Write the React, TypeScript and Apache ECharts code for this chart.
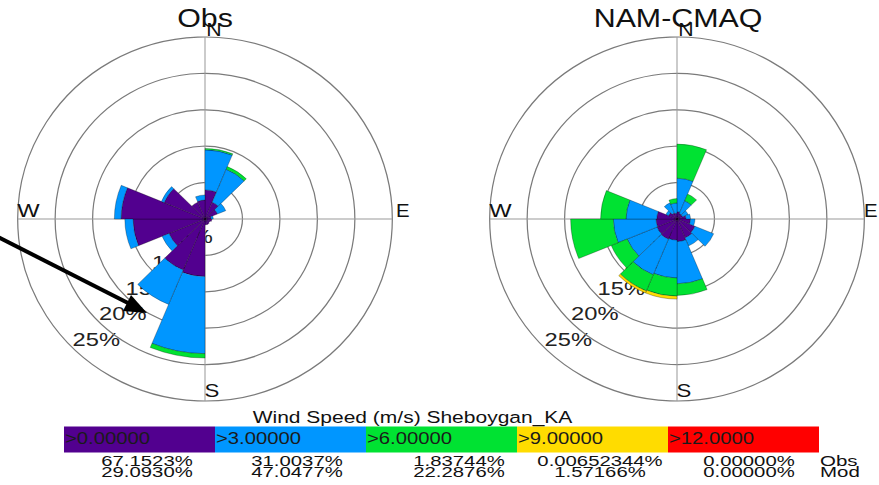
import React, { useEffect, useRef } from 'react';
import * as echarts from 'echarts';

// ---------- data ----------
const DIRECTIONS = ['N', 'NNE', 'NE', 'ENE', 'E', 'ESE', 'SE', 'SSE', 'S', 'SSW', 'SW', 'WSW', 'W', 'WNW', 'NW', 'NNW'];
const SPEED_BINS = ['>0.00000', '>3.00000', '>6.00000', '>9.00000', '>12.0000'];
const BIN_COLORS = ['#52008f', '#0096ff', '#00e232', '#ffdc00', '#ff0000'];
const RING_TICKS = [5, 10, 15, 20, 25];
const RING_LABELS = ['5%', '10%', '15%', '20%', '25%'];
const PANEL_TITLES = ['Obs', 'NAM-CMAQ'];
const LEGEND_TITLE = 'Wind Speed (m/s) Sheboygan_KA';
const OBS_PCT = ['67.1523%', '31.0037%', '1.83744%', '0.00652344%', '0.00000%'];
const MOD_PCT = ['29.0930%', '47.0477%', '22.2876%', '1.57166%', '0.00000%'];
const ROW_NAMES = ['Obs', 'Mod'];

// frequency (%) per direction sector (sector k spans k*22.5 .. (k+1)*22.5 deg)
const obsCalm = [4.0, 2.5, 1.8, 0.8, 0.9, 0.7, 0.8, 0.8, 7.9, 7.6, 5.2, 9.6, 11.2, 5.9, 2.5, 2.6];
const obsMid = [5.5, 4.9, 1.2, 0.3, 0, 0, 0, 0, 10.6, 5.1, 1.0, 1.1, 0.9, 0.4, 0, 0.7];
const obsHigh = [0.2, 0.4, 0, 0, 0, 0, 0, 0, 0.6, 0, 0, 0, 0, 0, 0, 0];
const obsVHigh = [0, 0, 0, 0, 0, 0, 0, 0, 0, 0, 0, 0, 0, 0, 0, 0];
const obsExtreme = [0, 0, 0, 0, 0, 0, 0, 0, 0, 0, 0, 0, 0, 0, 0, 0];

const modCalm = [1.0, 0.8, 0.8, 1.2, 1.8, 2.6, 2.8, 3.1, 2.9, 3.0, 2.9, 2.8, 2.7, 1.2, 0.9, 0.8];
const modMid = [4.6, 1.9, 0.8, 0.6, 0.6, 2.7, 1.2, 5.8, 5.2, 5.3, 4.3, 5.7, 4.1, 0.4, 1.5, 1.4];
const modHigh = [4.7, 1.0, 0, 0, 0, 0, 0, 1.6, 2.5, 2.4, 2.3, 5.7, 3.4, 0, 0, 0.6];
const modVHigh = [0, 0, 0, 0, 0, 0, 0, 0, 0.4, 0.3, 0, 0, 0, 0, 0, 0];
const modExtreme = [0, 0, 0, 0, 0, 0, 0, 0, 0, 0, 0, 0, 0, 0, 0, 0];

// ---------- layout ----------
const PAGE_W = 879;
const DIV_W = 854;
const SX = PAGE_W / DIV_W; // slight horizontal stretch of the original picture
const X = (px: number) => px / SX;
const FONT = '"Liberation Sans", Arial, Helvetica, sans-serif';
const CY = 219;
const R = 182;
const CENTERS = [X(205), X(677)];

function txt(text: string, x: number, y: number, o: any = {}) {
  const align = o.align || 'center';
  const va = o.va || 'middle';
  return {
    type: 'text',
    x,
    y,
    scaleX: o.sc || 1,
    z: o.z === undefined ? 20 : o.z,
    silent: true,
    style: {
      text,
      fontSize: o.size || 16,
      fontFamily: FONT,
      fill: o.fill || '#111',
      textAlign: align,
      align,
      textVerticalAlign: va,
      verticalAlign: va,
    },
  };
}

function buildGraphic() {
  const g: any[] = [];
  CENTERS.forEach((cx, i) => {
    g.push(txt(PANEL_TITLES[i], cx + X(i === 0 ? 0 : 1), 18, { size: 25, sc: 1.18 }));
    g.push(txt('N', cx + X(9), CY - 189, { size: 18, sc: 1.15 }));
    g.push(txt('S', cx + X(7), CY + 172, { size: 18, sc: 1.2 }));
    g.push(txt('W', cx - X(176.5), CY - 8, { size: 18, sc: 1.28 }));
    // E: the right panel's E sits at the picture's edge; keep it just inside
    g.push(txt('E', cx + X(i === 0 ? 191 : 187), CY - 8, { size: 18, sc: 1.1, align: 'left' }));
    RING_TICKS.forEach((v, k) => {
      const r = (R * v) / 25;
      g.push(
        txt(RING_LABELS[k], cx - r * 0.7071, CY + r * 0.7071 + 1, {
          size: 18,
          sc: 1.28,
          align: 'left',
          va: 'bottom',
          z: 0,
          fill: '#222',
        })
      );
    });
  });

  // annotation arrow
  g.push({
    type: 'line',
    z: 30,
    silent: true,
    shape: { x1: X(-2), y1: 237, x2: X(128), y2: 303 },
    style: { stroke: '#000', lineWidth: 4 },
  });
  g.push({
    type: 'polygon',
    z: 30,
    silent: true,
    shape: { points: [[X(147), 313], [X(123), 311], [X(131), 295]] },
    style: { fill: '#000' },
  });

  // legend
  g.push(txt(LEGEND_TITLE, X(412.5), 417, { size: 17, sc: 1.2 }));
  const boxLeft = 64;
  const boxW = 151;
  SPEED_BINS.forEach((lab, i) => {
    g.push({
      type: 'rect',
      z: 10,
      silent: true,
      shape: { x: X(boxLeft + i * boxW), y: 426.5, width: X(boxW), height: 26 },
      style: { fill: BIN_COLORS[i] },
    });
    g.push(txt(lab, X(boxLeft + i * boxW + 1), 438.5, { size: 16, sc: 1.23, align: 'left', fill: '#1a1a1a' }));
  });
  const pctCenters = [147, 297, 459, 600, 749];
  OBS_PCT.forEach((p, i) => g.push(txt(p, X(pctCenters[i]), 461, { size: 14, sc: 1.41 })));
  MOD_PCT.forEach((p, i) => g.push(txt(p, X(pctCenters[i]), 472, { size: 14, sc: 1.41 })));
  ROW_NAMES.forEach((n, i) =>
    g.push(txt(n, X(820), 461 + i * 11, { size: 14, sc: 1.42, align: 'left' }))
  );
  return g;
}

function roseSeries(polarIndex: number, stack: string, arrays: number[][]) {
  return arrays.map((arr, i) => ({
    type: 'bar',
    name: SPEED_BINS[i],
    coordinateSystem: 'polar',
    polarIndex,
    stack,
    barCategoryGap: '0%',
    silent: true,
    data: arr.map((v) => (v === 0 ? '-' : v)),
    itemStyle: { color: BIN_COLORS[i], borderColor: 'rgba(0,0,0,0.55)', borderWidth: 0.5 },
  }));
}

const option: any = {
  animation: false,
  backgroundColor: '#fff',
  polar: CENTERS.map((cx) => ({ center: [cx, CY], radius: R })),
  angleAxis: CENTERS.map((_, i) => ({
    polarIndex: i,
    type: 'category',
    data: DIRECTIONS,
    startAngle: 90,
    clockwise: true,
    boundaryGap: true,
    axisLine: { show: false },
    axisTick: { show: false, interval: 3 },
    axisLabel: { show: false },
    splitLine: { show: true, interval: 3, lineStyle: { color: '#9a9a9a', width: 1 } },
  })),
  radiusAxis: CENTERS.map((_, i) => ({
    polarIndex: i,
    type: 'value',
    min: 0,
    max: 25,
    interval: 5,
    axisLine: { show: false },
    axisTick: { show: false },
    axisLabel: { show: false },
    splitLine: { show: true, lineStyle: { color: '#7a7a7a', width: 1.2 } },
  })),
  series: [
    ...roseSeries(0, 'obs', [obsCalm, obsMid, obsHigh, obsVHigh, obsExtreme]),
    ...roseSeries(1, 'mod', [modCalm, modMid, modHigh, modVHigh, modExtreme]),
  ],
  graphic: { elements: buildGraphic() },
};

export default function App() {
  const ref = useRef<HTMLDivElement>(null);
  useEffect(() => {
    if (!ref.current) return;
    const chart = echarts.init(ref.current, null, { renderer: 'svg' });
    chart.setOption(option);
    return () => chart.dispose();
  }, []);
  return (
    <div
      style={{
        position: 'absolute',
        left: 0,
        top: 0,
        width: DIV_W,
        height: 485,
        background: '#fff',
        transform: `scaleX(${SX})`,
        transformOrigin: '0 0',
      }}
    >
      <div ref={ref} style={{ width: DIV_W, height: 485 }} />
    </div>
  );
}
